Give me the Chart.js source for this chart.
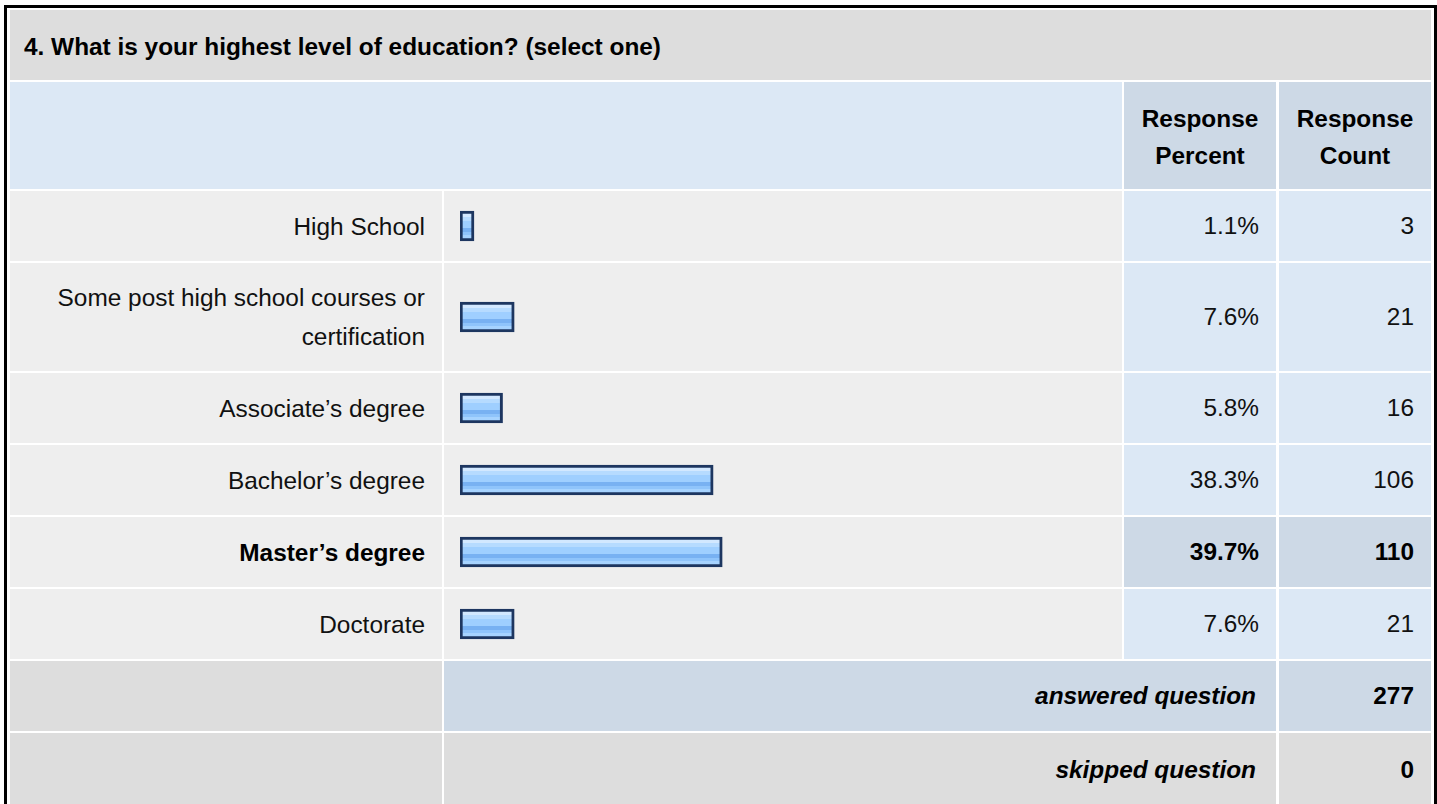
<!DOCTYPE html>
<html>
<head>
<meta charset="utf-8">
<script src="https://cdn.jsdelivr.net/npm/chart.js@4.4.1/dist/chart.umd.min.js"></script>
<style>
  html, body { margin: 0; padding: 0; background: #fff; overflow: hidden; }
  body { width: 1437px; height: 804px; position: relative; font-family: 'Liberation Sans', Arial, sans-serif; }
  #frame { position: absolute; left: 4px; top: 5px; width: 1427px; height: 900px; border: 3px solid #000; box-sizing: content-box; }
  .cell { position: absolute; box-sizing: border-box; display: flex; align-items: center; font-size: 24.4px; color: #111; }
  .right { justify-content: flex-end; text-align: right; padding-right: 17px; }
  .center { justify-content: center; text-align: center; }
  .bold { font-weight: bold; color: #000; }
  .ital { font-style: italic; }
  canvas { position: absolute; }
</style>
</head>
<body>
<div id="frame"></div>
<div id="root"></div>
<script>
// ---- data ----
const questionTitle = "4. What is your highest level of education? (select one)";
const headerPercent = ["Response", "Percent"];
const headerCount = ["Response", "Count"];
const categories = [
  "High School",
  "Some post high school courses or certification",
  "Associate’s degree",
  "Bachelor’s degree",
  "Master’s degree",
  "Doctorate"
];
const percentLabels = ["1.1%", "7.6%", "5.8%", "38.3%", "39.7%", "7.6%"];
const responsePercent = [1.1, 7.6, 5.8, 38.3, 39.7, 7.6];
const responseCount = [3, 21, 16, 106, 110, 21];
const highlighted = [false, false, false, false, true, false];
const answeredLabel = "answered question";
const answeredCount = 277;
const skippedLabel = "skipped question";
const skippedCount = 0;

// ---- layout (not data) ----
const COLS = [[10, 442], [444, 1122], [1124, 1276], [1279, 1431]];
const rowTops =   [10, 82, 191, 263, 373, 445, 517, 589, 661, 733];
const rowHeights = [70, 107, 70, 108, 70, 70, 70, 70, 70, 74];
const C_TITLE = '#dddddd', C_HEAD = '#dce8f5', C_HEAD2 = '#cdd9e6', C_ROW = '#eeeeee', C_VAL = '#dce8f5';

const root = document.getElementById('root');
function cell(c0, c1, r, bg, cls, html, extra) {
  const d = document.createElement('div');
  d.className = 'cell ' + (cls || '');
  d.style.left = COLS[c0][0] + 'px';
  d.style.width = (COLS[c1][1] - COLS[c0][0]) + 'px';
  d.style.top = rowTops[r] + 'px';
  d.style.height = rowHeights[r] + 'px';
  d.style.background = bg;
  if (html !== undefined) d.innerHTML = html;
  if (extra) Object.assign(d.style, extra);
  root.appendChild(d);
  return d;
}

// title
cell(0, 3, 0, C_TITLE, 'bold', questionTitle, { paddingLeft: '14px', paddingTop: '3px' });
// header
cell(0, 1, 1, C_HEAD, '');
cell(2, 2, 1, C_HEAD2, 'center bold', headerPercent.join('<br>'), { lineHeight: '37px', paddingTop: '3px' });
cell(3, 3, 1, C_HEAD2, 'center bold', headerCount.join('<br>'), { lineHeight: '37px', paddingTop: '3px' });

// bar scale
const X_MIN = -0.77, X_MAX = 100, BAR_LEFT = 460, BAR_W = 653;

categories.forEach((name, i) => {
  const r = i + 2;
  const hl = highlighted[i];
  cell(0, 0, r, C_ROW, 'right' + (hl ? ' bold' : ''), name, { lineHeight: '39px', paddingLeft: '30px' });
  cell(1, 1, r, C_ROW, '');
  cell(2, 2, r, hl ? C_HEAD2 : C_VAL, 'right' + (hl ? ' bold' : ''), percentLabels[i]);
  cell(3, 3, r, hl ? C_HEAD2 : C_VAL, 'right' + (hl ? ' bold' : ''), String(responseCount[i]));

  const cv = document.createElement('canvas');
  cv.width = BAR_W; cv.height = rowHeights[r];
  cv.style.left = BAR_LEFT + 'px';
  cv.style.top = rowTops[r] + 'px';
  cv.style.width = BAR_W + 'px';
  cv.style.height = rowHeights[r] + 'px';
  root.appendChild(cv);

  new Chart(cv, {
    type: 'bar',
    data: {
      labels: [name],
      datasets: [{
        data: [responsePercent[i]],
        base: X_MIN,
        barThickness: 30,
        minBarLength: 14,
        borderWidth: 3,
        borderSkipped: false,
        borderColor: '#1d3660',
        backgroundColor: (ctx) => {
          const ca = ctx.chart.chartArea;
          if (!ca) return '#99ccff';
          const cy = (ca.top + ca.bottom) / 2;
          const g = ctx.chart.ctx.createLinearGradient(0, cy - 12, 0, cy + 12);
          const stops = [
            [0.00, '#d2e8ff'], [0.12, '#d2e8ff'],
            [0.12, '#b6dbff'], [0.28, '#b6dbff'],
            [0.28, '#9fcfff'], [0.58, '#9fcfff'],
            [0.58, '#78b1f2'], [0.74, '#78b1f2'],
            [0.74, '#8fc4fb'], [0.88, '#8fc4fb'],
            [0.88, '#a6d3ff'], [1.00, '#a6d3ff']
          ];
          stops.forEach(s => g.addColorStop(s[0], s[1]));
          return g;
        }
      }]
    },
    options: {
      indexAxis: 'y',
      responsive: false,
      animation: false,
      devicePixelRatio: 1,
      layout: { padding: 0 },
      plugins: { legend: { display: false }, tooltip: { enabled: false } },
      scales: {
        x: { type: 'linear', display: false, min: X_MIN, max: X_MAX },
        y: { display: false }
      }
    }
  });
});

// answered / skipped
cell(0, 0, 8, C_TITLE, '');
cell(1, 2, 8, C_HEAD2, 'right bold ital', answeredLabel, { paddingRight: '20px' });
cell(3, 3, 8, C_HEAD2, 'right bold', String(answeredCount));
cell(0, 0, 9, C_TITLE, '');
cell(1, 2, 9, C_TITLE, 'right bold ital', skippedLabel, { paddingRight: '20px' });
cell(3, 3, 9, C_TITLE, 'right bold', String(skippedCount));
</script>
</body>
</html>
